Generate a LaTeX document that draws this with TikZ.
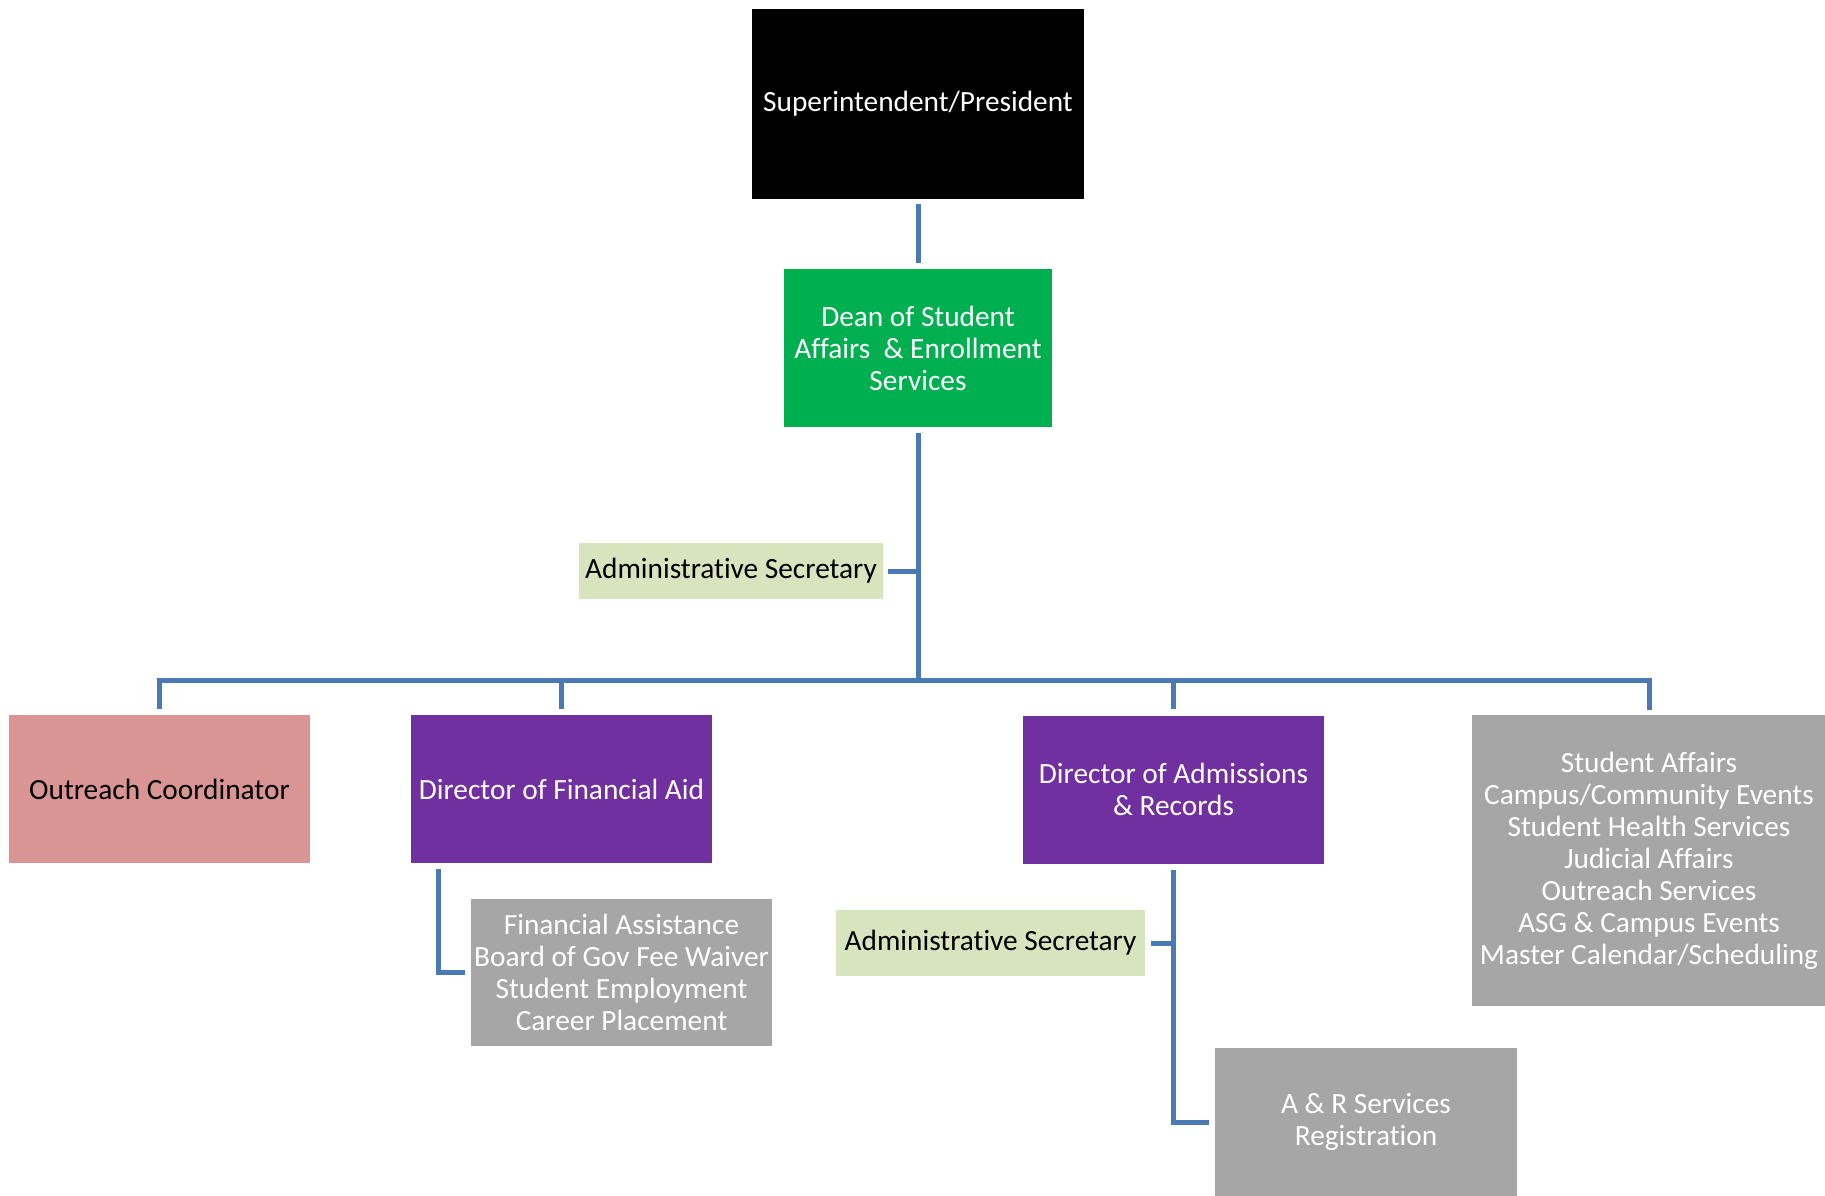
\documentclass[tikz,border=0pt]{standalone}
\usepackage{fontspec}
\setmainfont{Carlito}[Ligatures=NoCommon]
\definecolor{connblue}{HTML}{4A7AB4}
\definecolor{deangreen}{HTML}{00B050}
\definecolor{secgreen}{HTML}{D7E4BD}
\definecolor{rosebox}{HTML}{D99594}
\definecolor{dirpurple}{HTML}{7030A0}
\definecolor{unitgray}{HTML}{A6A6A6}
\begin{document}
\begin{tikzpicture}[x=0.75pt,y=-0.75pt,
  box/.style={rectangle,inner sep=0pt,align=center,text=white,
    font=\fontsize{22}{24}\selectfont,minimum width=225.75pt,minimum height=111pt},
  conn/.style={draw=connblue,line width=3.75pt}]
\useasboundingbox (0,0) rectangle (1825,1196);
\fill[white] (0,0) rectangle (1825,1196);

% boxes
\node[box,fill=black,minimum width=249pt,minimum height=142.5pt] (pres) at (918,104) {Superintendent/President};
\node[box,fill=deangreen,minimum width=201pt,minimum height=118.5pt] (dean) at (918,348) {Dean of Student\\Affairs~ \& Enrollment\\Services};
\node[box,fill=secgreen,text=black,minimum width=228pt,minimum height=42pt] (sec1) at (731,571) {Administrative Secretary};
\node[box,fill=rosebox,text=black] (outreach) at (159.5,789) {Outreach Coordinator};
\node[box,fill=dirpurple] (finaid) at (561.5,789) {Director of Financial Aid};
\node[box,fill=dirpurple] (adm) at (1173.5,789.5) {Director of Admissions\\\& Records};
\node[box,fill=unitgray,minimum width=265.5pt,minimum height=218.25pt] (ra) at (1649,860.5) {Student Affairs\\Campus/Community Events\\Student Health Services\\Judicial Affairs\\Outreach Services\\ASG \& Campus Events\\Master Calendar/Scheduling};
\node[box,fill=unitgray,minimum height=110.25pt] (finsub) at (621.5,972.5) {Financial Assistance\\Board of Gov Fee Waiver\\Student Employment\\Career Placement};
\node[box,fill=secgreen,text=black,minimum width=231.75pt,minimum height=49.5pt] (sec2) at (990.5,943) {Administrative Secretary};
\node[box,fill=unitgray,minimum width=226.5pt] (ar) at (1366,1122) {A \& R Services\\Registration};

\coordinate (bus) at (918,680.5);

% connectors
\draw[conn] ([yshift=-3.75pt]pres.south) -- ([yshift=4.5pt]dean.north);
\draw[conn] ([yshift=-4.5pt]dean.south) -- ([yshift=-1.875pt]bus);
\draw[conn] ([xshift=3.75pt]sec1.east) -- (sec1.east -| dean.south);
\draw[conn] ([yshift=4.5pt]outreach.north) -- (outreach.north |- bus) -- (ra.north |- bus) -- ([yshift=3.75pt]ra.north);
\draw[conn] ([yshift=4.5pt]finaid.north) -- (finaid.north |- bus);
\draw[conn] ([yshift=4.5pt]adm.north) -- (adm.north |- bus);
\draw[conn] ([xshift=21pt,yshift=-4.5pt]finaid.south west) |- ([xshift=-4.5pt]finsub.west);
\draw[conn] ([yshift=-4.5pt]adm.south) |- ([xshift=-4.5pt]ar.west);
\draw[conn] ([xshift=4.5pt]sec2.east) -- (sec2.east -| adm.south);
\end{tikzpicture}
\end{document}
